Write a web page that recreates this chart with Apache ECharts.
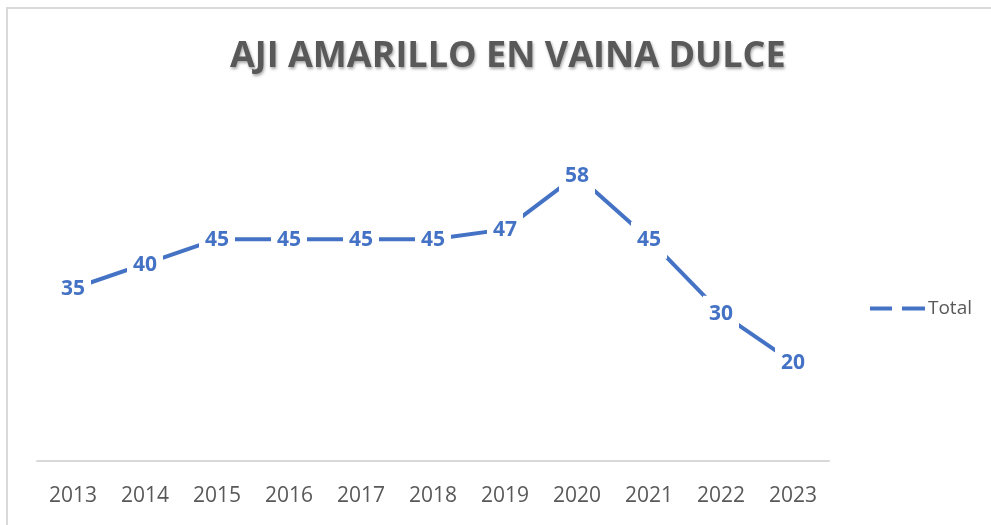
<!DOCTYPE html>
<html>
<head>
<meta charset="utf-8">
<script src="https://cdn.jsdelivr.net/npm/echarts@6/dist/echarts.min.js"></script>
<style>
  html, body { margin: 0; padding: 0; background: #fff; }
  #chart { width: 991px; height: 525px; }
</style>
</head>
<body>
<div id="chart"></div>
<script>
// datos
const years = ["2013", "2014", "2015", "2016", "2017", "2018", "2019", "2020", "2021", "2022", "2023"];
const totals = [35, 40, 45, 45, 45, 45, 47, 58, 45, 30, 20];

const mycharts = echarts.init(document.getElementById("chart"));
mycharts.setOption({
  animation: false,
  title: {
    text: "AJI AMARILLO EN VAINA DULCE",
    left: 225,
    top: 34,
    textStyle: {
      fontFamily: "Open Sans",
      fontWeight: "bold",
      fontSize: 36,
      color: "#595959",
      textShadowColor: "rgba(0,0,0,0.35)",
      textShadowBlur: 3,
      textShadowOffsetX: 1,
      textShadowOffsetY: 2,
    },
  },
  graphic: [
    {
      type: "polyline",
      shape: { points: [[7, 525], [7, 8], [991, 8]] },
      style: { stroke: "#d9d9d9", lineWidth: 2, fill: null },
      silent: true,
    },
  ],
  legend: {
    right: 14,
    top: 294,
    data: ["Total"],
    icon: "path://M0,0h22v4h-22z M32,0h23v4h-23z",
    itemWidth: 55,
    itemHeight: 4,
    itemGap: 4,
    textStyle: { fontFamily: "Open Sans", fontSize: 19, color: "#595959", padding: [0, 0, 0, -2] },
  },
  grid: {
    left: 37,
    right: 162,
    top: 116,
    bottom: 64,
  },
  xAxis: {
    type: "category",
    data: years,
    axisLine: { lineStyle: { color: "#d9d9d9", width: 2 } },
    axisTick: { show: false },
    axisLabel: {
      margin: 25,
      fontFamily: "Open Sans",
      fontSize: 21,
      color: "#595959",
    },
  },
  yAxis: {
    type: "value",
    min: 0,
    max: 70,
    show: false,
    splitLine: { show: false },
  },
  series: [
    {
      name: "Total",
      type: "line",
      data: totals,
      color: "#4472C4",
      symbol: "circle",
      symbolSize: 0,
      lineStyle: { width: 4, color: "#4472C4" },
      label: {
        show: true,
        position: "inside",
        offset: [0, 1],
        fontFamily: "Open Sans",
        fontWeight: "bold",
        fontSize: 21,
        color: "#4472C4",
        backgroundColor: "#fff",
        padding: [8, 6],
      },
    },
  ],
});
</script>
</body>
</html>
